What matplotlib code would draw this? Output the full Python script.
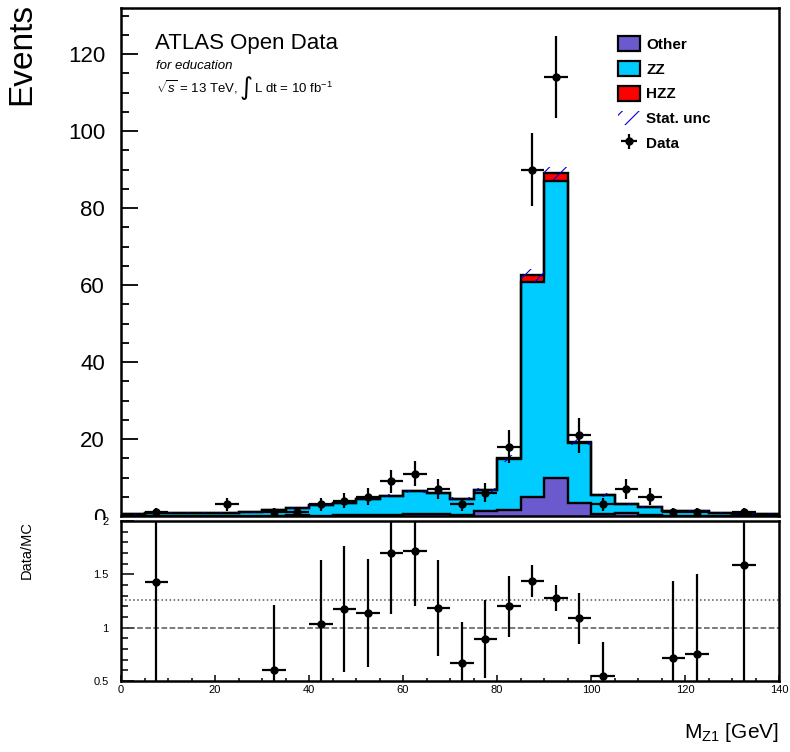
import numpy as np
import matplotlib
matplotlib.use("agg")
import matplotlib.pyplot as plt
from matplotlib.patches import Patch, Rectangle
from matplotlib.ticker import MultipleLocator

plt.rcParams["font.family"] = ["Liberation Sans", "DejaVu Sans"]
plt.rcParams["mathtext.fontset"] = "custom"
plt.rcParams["mathtext.rm"] = "Liberation Sans"
plt.rcParams["mathtext.it"] = "Liberation Sans:italic"
plt.rcParams["hatch.linewidth"] = 0.8

# 5 GeV bins, 0-140 GeV
edges = np.arange(0, 145, 5)
centers = edges[:-1] + 2.5

other = [0.05, 0.05, 0.05, 0.05, 0.05, 0.05, 0.1, 0.2, 0.1, 0.15,
         0.2, 0.2, 0.5, 0.5, 0.3, 1.2, 1.6, 5.0, 9.8, 3.3,
         0.4, 0.8, 0.3, 0.1, 0.1, 0.05, 0.05, 0.05]
zz = [0.35, 0.65, 0.85, 0.85, 0.85, 0.95, 1.55, 1.9, 2.8, 3.25,
      4.2, 5.1, 5.9, 5.4, 4.2, 5.5, 13.1, 55.7, 77.2, 15.7,
      5.0, 2.3, 2.0, 1.29, 1.23, 0.85, 0.58, 0.55]
hzz = [0, 0, 0, 0, 0, 0, 0, 0, 0, 0,
       0, 0, 0, 0, 0, 0, 0.3, 1.8, 2.0, 0.3,
       0.05, 0, 0, 0, 0, 0, 0, 0]
stat_unc = [0.1, 0.15, 0.15, 0.15, 0.15, 0.15, 0.2, 0.25, 0.3, 0.3,
            0.35, 0.4, 0.45, 0.4, 0.35, 0.45, 0.9, 1.6, 1.7, 0.8,
            0.4, 0.3, 0.3, 0.2, 0.2, 0.15, 0.15, 0.15]
data = [0, 1, 0, 0, 3, 0, 1, 1, 3, 4,
        5, 9, 11, 7, 3, 6, 18, 90, 114, 21,
        3, 7, 5, 1, 1, 0, 1, 0]

col_other = "#6a5acd"
col_zz = "#00ccff"
col_hzz = "#ff0000"
col_unc = "#0000cc"

other = np.array(other)
zz = np.array(zz)
hzz = np.array(hzz)
stat_unc = np.array(stat_unc)
data = np.array(data, dtype=float)
lvl1 = other
lvl2 = other + zz
total = lvl2 + hzz

W, H = 790, 752
fig = plt.figure(figsize=(W / 100, H / 100), dpi=100)
ax = fig.add_axes([121 / W, 1 - 516 / H, 658 / W, 508 / H])
rax = fig.add_axes([121 / W, 1 - 681 / H, 658 / W, 160 / H], zorder=2)

# stacked MC
ax.stairs(lvl1, edges, baseline=0, fill=True, color=col_other, lw=0)
ax.stairs(lvl2, edges, baseline=lvl1, fill=True, color=col_zz, lw=0)
ax.stairs(total, edges, baseline=lvl2, fill=True, color=col_hzz, lw=0)
for lv in (lvl1, lvl2, total):
    ax.stairs(lv, edges, color="k", lw=1.7)
ax.stairs(total + stat_unc, edges, baseline=total - stat_unc, fill=True,
          facecolor="none", edgecolor=col_unc, hatch="//", lw=0)

has = data > 0
eb = ax.errorbar(centers[has], data[has], xerr=2.5, yerr=np.sqrt(data[has]),
                 fmt="o", color="k", ms=5, elinewidth=1.6, capsize=0, zorder=5)

ax.set_xlim(0, 140)
ax.set_ylim(0, 132)
ax.yaxis.set_major_locator(MultipleLocator(20))
ax.yaxis.set_minor_locator(MultipleLocator(5))
ax.tick_params(axis="y", which="major", direction="in", length=12, width=1.3,
               labelsize=16, pad=11.5)
ax.tick_params(axis="y", which="minor", direction="in", length=6, width=1.3)
ax.tick_params(axis="x", which="both", length=0, labelbottom=False)
for s in ax.spines.values():
    s.set_linewidth(1.8)

# ATLAS label block
fig.text(155 / W, 1 - 49 / H, "ATLAS Open Data", fontsize=16, va="baseline", ha="left")
fig.text(156 / W, 1 - 69 / H, "for education", fontsize=9.5, style="italic",
         va="baseline", ha="left")
yb = 1 - 93 / H
t1 = fig.text(156 / W, yb, r"$\sqrt{s}$ = 13 TeV, ", fontsize=9.5, va="baseline", ha="left")
rend = fig.canvas.get_renderer()
x1 = t1.get_window_extent(rend).x1 / W
t2 = fig.text(x1, 1 - 88 / H, "\u222b", fontsize=18, va="center", ha="left",
              family="DejaVu Sans")
x2 = t2.get_window_extent(rend).x1 / W
fig.text(x2 + 2 / W, yb, r"L dt = 10 fb$^{-1}$", fontsize=9.5, va="baseline", ha="left")

handles = [Patch(facecolor=col_other, edgecolor="k", lw=1.6),
           Patch(facecolor=col_zz, edgecolor="k", lw=1.6),
           Patch(facecolor=col_hzz, edgecolor="k", lw=1.6),
           Patch(facecolor="none", edgecolor=col_unc, hatch="//", lw=0),
           eb]
labels = ["Other", "ZZ", "HZZ", "Stat. unc", "Data"]
ax.legend(handles, labels, loc="upper left", bbox_to_anchor=(0.755, 0.944),
          frameon=False, borderpad=0, borderaxespad=0, handlelength=1.45,
          handleheight=1.1, handletextpad=0.4, labelspacing=0.6,
          prop={"weight": "bold", "size": 11})

# ratio panel
ratio = data / total
rerr = np.sqrt(data) / total
show = (data > 0) & (ratio >= 0.5) & (ratio <= 2)
rax.errorbar(centers[show], ratio[show], xerr=2.5, yerr=rerr[show],
             fmt="o", color="k", ms=5, elinewidth=1.6, capsize=0, zorder=5)
rax.axhline(1, color="#555555", ls="--", lw=1.1)
rax.axhline(data.sum() / total.sum(), color="#555555", ls=":", lw=1.1)
rax.set_xlim(0, 140)
rax.set_ylim(0.5, 2)
rax.set_yticks([0.5, 1, 1.5, 2], ["0.5", "1", "1.5", "2"])
rax.yaxis.set_minor_locator(MultipleLocator(0.1))
rax.xaxis.set_major_locator(MultipleLocator(20))
rax.xaxis.set_minor_locator(MultipleLocator(5))
rax.tick_params(axis="y", which="major", direction="in", length=9, width=1.1,
                labelsize=8, pad=9)
rax.tick_params(axis="y", which="minor", direction="in", length=5, width=1.1)
rax.tick_params(axis="x", which="major", direction="in", length=4, width=1.1,
                labelsize=8, pad=3)
rax.tick_params(axis="x", which="minor", direction="in", length=2, width=1.1)
for s in rax.spines.values():
    s.set_linewidth(1.8)

# hide lower half of main "0" label behind the ratio pad
fig.add_artist(Rectangle((0, 0), 121 / W, 1 - 520 / H, transform=fig.transFigure,
                         facecolor="white", edgecolor="none", zorder=1))

fig.text(22 / W, 1 - 3 / H, "Events", rotation=90, ha="center", va="top", fontsize=24)
fig.text(27 / W, 1 - 521 / H, "Data/MC", rotation=90, ha="center", va="top", fontsize=10.5)
fig.text(779 / W, 1 - 732 / H, r"M$_{\mathregular{Z1}}$ [GeV]", ha="right",
         va="center", fontsize=15)

fig.savefig("out.png", dpi=100)
